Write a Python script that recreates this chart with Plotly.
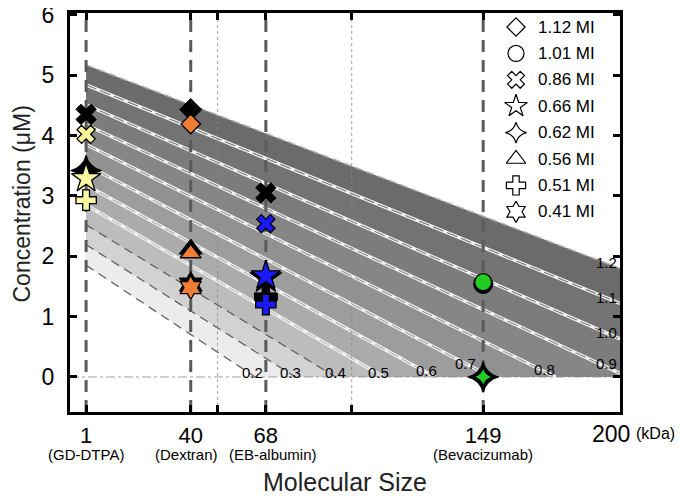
import plotly.graph_objects as go

# ---------------- data ----------------
mi_levels = [0.2, 0.3, 0.4, 0.5, 0.6, 0.7, 0.8, 0.9, 1.0, 1.1, 1.2]
line_y_at_1 = [1.85, 2.19, 2.52, 2.85, 3.18, 3.51, 3.85, 4.18, 4.51, 4.84, 5.17]
line_x_end = [64, 79, 94, 112, 131, 152, 176, 200, 200, 200, 200]
line_y_end = [0, 0, 0, 0, 0, 0, 0, 0.06, 0.63, 1.22, 1.80]
label_x = [63, 77, 94, 110, 128, 142.5, 172, 195, 195, 195, 195]
label_y = [0.08, 0.08, 0.08, 0.08, 0.1, 0.22, 0.13, 0.22, 0.74, 1.32, 1.9]
band_colors = ["#ffffff", "#ececec", "#d2d2d2", "#bcbcbc", "#ababab", "#9d9d9d",
               "#919191", "#868686", "#7c7c7c", "#737373", "#6b6b6b"]

molecule_kda = [1, 40, 68, 149]
molecule_names = ["(GD-DTPA)", "(Dextran)", "(EB-albumin)", "(Bevacizumab)"]
x_tickvals = [1, 40, 50, 68, 100, 149, 200]
x_ticktext = ["1", "40", "", "68", "", "149", ""]
y_tickvals = [0, 1, 2, 3, 4, 5, 6]
dotted_x = [50, 100]

# measured markers: (symbol, x, y) for black, (symbol, x, y, colour) for coloured
black_pts = [
    ("diamond", 40, 4.43),
    ("x", 1, 4.35),
    ("x", 68, 3.05),
    ("star-diamond", 1, 3.42),
    ("star-diamond", 149, 0.0),
    ("triangle-up", 40, 2.12),
    ("cross", 68, 1.33),
    ("hexagram", 40, 1.53),
    ("star", 68, 1.64),
    ("circle", 149, 1.54),
]
color_pts = [
    ("diamond", 40, 4.19, "#f07f35"),
    ("x", 1, 4.02, "#fbf7a0"),
    ("x", 68, 2.54, "#1a1aff"),
    ("star", 1, 3.29, "#fbf7a0"),
    ("star", 68, 1.68, "#1a1aff"),
    ("cross", 1, 2.93, "#fbf7a0"),
    ("cross", 68, 1.20, "#1a1aff"),
    ("triangle-up", 40, 2.05, "#f07f35"),
    ("hexagram", 40, 1.48, "#f07f35"),
    ("circle", 149, 1.57, "#22cc22"),
    ("star-diamond", 149, 0.0, "#22cc22"),
]
symbol_size = {"diamond": 15, "x": 16, "star": 22, "star-diamond": 14,
               "triangle-up": 18, "cross": 17, "hexagram": 18, "circle": 17}
black_extra = {"diamond": 2, "x": 2, "star": 2, "star-diamond": 8,
               "triangle-up": 2, "cross": 2, "hexagram": 2, "circle": 2}

legend_labels = ["1.12 MI", "1.01 MI", "0.86 MI", "0.66 MI", "0.62 MI",
                 "0.56 MI", "0.51 MI", "0.41 MI"]
legend_symbols = ["diamond-open", "circle-open", "x-open", "star-open",
                  "star-diamond-open", "triangle-up-open", "cross-open", "hexagram-open"]
legend_sizes = [14, 16, 15, 17, 15, 17, 16, 16]

FONT = "Liberation Sans, Arial, sans-serif"
fig = go.Figure()

# ---------------- shaded bands (draw from top line downward) ----------------
for i in reversed(range(len(mi_levels))):
    xs = [1, 1, line_x_end[i]]
    ys = [0, line_y_at_1[i], line_y_end[i]]
    if line_y_end[i] > 0:
        xs.append(line_x_end[i]); ys.append(0)
    xs.append(1); ys.append(0)
    fig.add_trace(go.Scatter(x=xs, y=ys, mode="lines", fill="toself",
                             fillcolor=band_colors[i], line=dict(width=0),
                             hoverinfo="skip", showlegend=False))

# ---------------- contour lines ----------------
for i, m in enumerate(mi_levels):
    lx = [1, line_x_end[i]]
    ly = [line_y_at_1[i], line_y_end[i]]
    if m <= 0.4:
        fig.add_trace(go.Scatter(x=lx, y=ly, mode="lines",
                                 line=dict(color="#5a5a5a", width=1.2, dash="9px,6px"),
                                 hoverinfo="skip", showlegend=False))
    elif m >= 1.2:
        fig.add_trace(go.Scatter(x=lx, y=ly, mode="lines",
                                 line=dict(color="#b0b0b0", width=1.5, dash="8px,4px"),
                                 hoverinfo="skip", showlegend=False))
    else:
        fig.add_trace(go.Scatter(x=lx, y=ly, mode="lines",
                                 line=dict(color="#f4f4f4", width=3.4),
                                 hoverinfo="skip", showlegend=False))
        fig.add_trace(go.Scatter(x=lx, y=ly, mode="lines",
                                 line=dict(color=band_colors[i], width=1.1, dash="11px,4px"),
                                 hoverinfo="skip", showlegend=False))

# ---------------- reference lines ----------------
for xv in dotted_x:
    fig.add_trace(go.Scatter(x=[xv, xv], y=[-0.58, 6.03], mode="lines",
                             line=dict(color="#8a8a8a", width=0.8, dash="dot"),
                             hoverinfo="skip", showlegend=False))
fig.add_trace(go.Scatter(x=[-5, 200], y=[0, 0], mode="lines",
                         line=dict(color="#8a8a8a", width=0.8, dash="dashdot"),
                         hoverinfo="skip", showlegend=False))
for xv in molecule_kda:
    fig.add_trace(go.Scatter(x=[xv, xv], y=[-0.58, 6.03], mode="lines",
                             line=dict(color="#5a5a5a", width=3, dash="12px,8px"),
                             hoverinfo="skip", showlegend=False))

# ---------------- markers ----------------
for sym, xv, yv in black_pts:
    fig.add_trace(go.Scatter(x=[xv], y=[yv], mode="markers",
                             marker=dict(symbol=sym, size=symbol_size[sym] + black_extra[sym],
                                         color="black", line=dict(color="black", width=1)),
                             hoverinfo="skip", showlegend=False))
for sym, xv, yv, col in color_pts:
    fig.add_trace(go.Scatter(x=[xv], y=[yv], mode="markers",
                             marker=dict(symbol=sym, size=symbol_size[sym], color=col,
                                         line=dict(color="black", width=1.3)),
                             hoverinfo="skip", showlegend=False))

# ---------------- legend (overlay pixel axes, plot-area pixels) ----------------
leg_x = 446
leg_y0 = 14
leg_dy = 26.4
for k, (lab, sym, sz) in enumerate(zip(legend_labels, legend_symbols, legend_sizes)):
    fig.add_trace(go.Scatter(x=[leg_x], y=[leg_y0 + k * leg_dy], mode="markers",
                             xaxis="x2", yaxis="y2",
                             marker=dict(symbol=sym, size=sz,
                                         color="black", line=dict(color="black", width=1.2)),
                             hoverinfo="skip", showlegend=False))
    fig.add_annotation(x=leg_x + 20, y=leg_y0 + k * leg_dy, xref="x2", yref="y2",
                       text=lab, showarrow=False, xanchor="left", yanchor="middle",
                       font=dict(size=17, color="black", family=FONT))

# ---------------- line labels ----------------
for m, xv, yv in zip(mi_levels, label_x, label_y):
    fig.add_annotation(x=xv, y=yv, text=f"{m:.1f}", showarrow=False,
                       xanchor="center", yanchor="middle",
                       font=dict(size=15, color="black", family=FONT))

# ---------------- axis sublabels & titles ----------------
sub_shift = [0, -4, 7, 0]
for xv, name, sh in zip(molecule_kda, molecule_names, sub_shift):
    fig.add_annotation(x=xv, y=0, xref="x", yref="paper", text=name, showarrow=False,
                       xanchor="center", yanchor="middle", yshift=-42, xshift=sh,
                       font=dict(size=15, color="black", family=FONT))
fig.add_annotation(x=200, y=0, xref="x", yref="paper", text="200", showarrow=False,
                   xanchor="center", yanchor="middle", yshift=-22, xshift=-9,
                   font=dict(size=23, color="black", family=FONT))
fig.add_annotation(x=200, y=0, xref="x", yref="paper", text="(kDa)", showarrow=False,
                   xanchor="left", yanchor="middle", yshift=-21, xshift=14,
                   font=dict(size=16, color="black", family=FONT))
fig.add_annotation(x=0.5, y=0, xref="paper", yref="paper", text="Molecular Size",
                   showarrow=False, xanchor="center", yanchor="middle", yshift=-70,
                   font=dict(size=25, color="#222", family=FONT))
fig.add_annotation(x=0, y=0.52, xref="paper", yref="paper", text="Concentration (μM)",
                   showarrow=False, textangle=-90, xanchor="center", yanchor="middle",
                   xshift=-48, font=dict(size=23, color="#222", family=FONT))

# page body adds an 8px offset, so margins are reduced by 8px on the left/top
fig.update_layout(
    width=685, height=497,
    margin=dict(l=62, r=73, t=5, b=93),
    paper_bgcolor="white", plot_bgcolor="white",
    showlegend=False,
    font=dict(family=FONT, color="black"),
    xaxis=dict(range=[-5, 200], tickvals=x_tickvals, ticktext=x_ticktext,
               ticks="inside", ticklen=7, tickwidth=3, tickcolor="black",
               showline=True, linewidth=3, linecolor="black", mirror="ticks",
               showgrid=False, zeroline=False, ticklabelstandoff=2, automargin=False,
               ticklabeloverflow="allow",
               tickfont=dict(size=22, family=FONT)),
    yaxis=dict(range=[-0.58, 6.03], tickvals=y_tickvals,
               ticks="inside", ticklen=7, tickwidth=3, tickcolor="black",
               showline=True, linewidth=3, linecolor="black", mirror="ticks",
               showgrid=False, zeroline=False, ticklabelstandoff=8, automargin=False,
               ticklabeloverflow="allow",
               tickfont=dict(size=23, family=FONT)),
    xaxis2=dict(overlaying="x", range=[0, 550], visible=False, anchor="y2"),
    yaxis2=dict(overlaying="y", range=[399, 0], visible=False, anchor="x2"),
)

fig.write_html("out.html")
